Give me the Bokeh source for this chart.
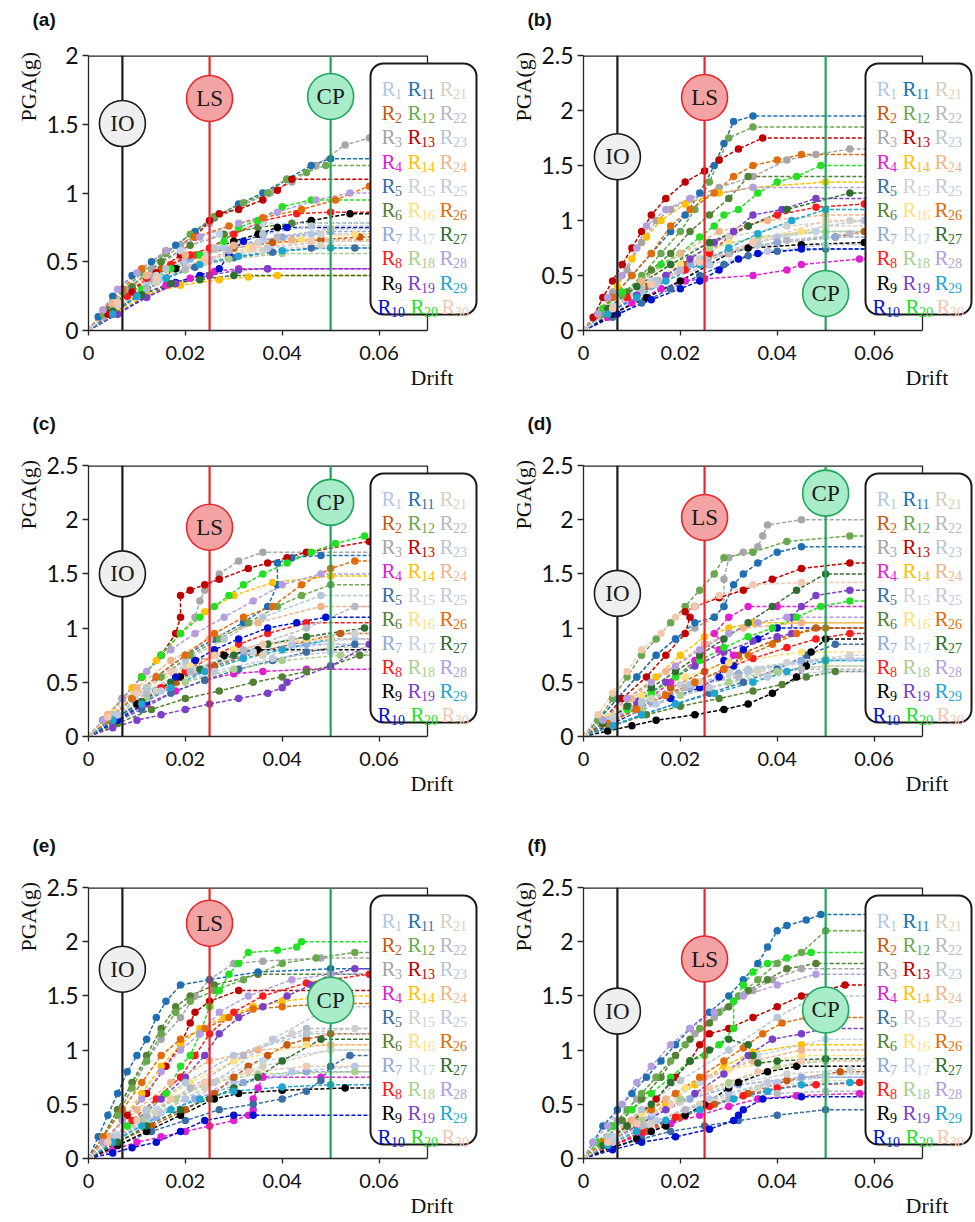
import math
from bokeh.plotting import figure
from bokeh.layouts import column, row
from bokeh.models import FixedTicker, BoxAnnotation, Title
from bokeh.core.properties import value
from bokeh.embed import file_html
from bokeh.resources import INLINE

# ---------------------------------------------------------------- data
RECORD_NAMES = [str(i) for i in range(1, 31)]
RECORD_COLORS = [
    "#b4c6e7", "#c55a11", "#a6a6a6", "#e020d0", "#3a6ea5",
    "#548235", "#8faadc", "#ff1a1a", "#000000", "#0010d0",
    "#1f6fb2", "#6aa84f", "#c00000", "#ffc000", "#d0d0d0",
    "#ffe080", "#c5d3e8", "#a9d08e", "#7b3fc8", "#22e022",
    "#d4d2bc", "#b8b8c4", "#b4c8d4", "#f0b48a", "#c0c8dc",
    "#e36c0a", "#2e6e30", "#b49ee0", "#1ea5d0", "#f4c8b0",
]

LIMIT_NAMES = ["IO", "LS", "CP"]
LIMIT_DRIFT = [0.007, 0.025, 0.05]
LIMIT_LINE = ["#1a1a1a", "#e8262b", "#1fa55a"]
LIMIT_FILL = ["#efefef", "#f3a3a3", "#a9ecc9"]

X_TICKS = [0, 0.02, 0.04, 0.06]
X_LABELS = ["0", "0.02", "0.04", "0.06"]

# IDA curves (drift, PGA in g), records R1..R30, per building model
IDA_A = [
    [(0.006,0.2),(0.012,0.35),(0.02,0.5),(0.028,0.6),(0.036,0.66),(0.046,0.7)],
    [(0.004,0.15),(0.009,0.3),(0.015,0.45),(0.022,0.55),(0.03,0.6),(0.038,0.64),(0.048,0.66),(0.056,0.68)],
    [(0.003,0.1),(0.008,0.3),(0.013,0.45),(0.019,0.62),(0.025,0.78),(0.031,0.9),(0.0375,1.0),(0.042,1.08),(0.047,1.2),(0.053,1.35),(0.058,1.4)],
    [(0.005,0.12),(0.01,0.25),(0.016,0.33),(0.021,0.38),(0.026,0.43),(0.031,0.45),(0.037,0.45)],
    [(0.005,0.12),(0.01,0.25),(0.016,0.38),(0.022,0.46),(0.03,0.53),(0.038,0.57),(0.046,0.6),(0.055,0.6)],
    [(0.004,0.15),(0.009,0.32),(0.015,0.5),(0.021,0.62),(0.028,0.7),(0.035,0.75),(0.042,0.78)],
    [(0.006,0.2),(0.013,0.38),(0.021,0.52),(0.03,0.62),(0.04,0.68),(0.05,0.72)],
    [(0.004,0.12),(0.008,0.25),(0.012,0.38),(0.017,0.48),(0.021,0.55),(0.025,0.6),(0.03,0.7),(0.036,0.8),(0.043,0.85),(0.05,0.86)],
    [(0.006,0.15),(0.012,0.3),(0.018,0.45),(0.023,0.55),(0.03,0.65),(0.035,0.7),(0.039,0.75),(0.046,0.8),(0.054,0.85)],
    [(0.006,0.12),(0.012,0.25),(0.018,0.35),(0.023,0.4),(0.027,0.45),(0.029,0.55),(0.032,0.65),(0.036,0.7),(0.041,0.75)],
    [(0.002,0.1),(0.005,0.25),(0.009,0.4),(0.013,0.5),(0.018,0.62),(0.022,0.72),(0.026,0.82),(0.031,0.92),(0.036,1.0),(0.041,1.1),(0.046,1.2),(0.05,1.25)],
    [(0.003,0.12),(0.007,0.28),(0.011,0.42),(0.016,0.56),(0.021,0.7),(0.026,0.83),(0.032,0.93),(0.037,1.0),(0.041,1.1),(0.045,1.15),(0.049,1.2)],
    [(0.004,0.12),(0.009,0.28),(0.014,0.42),(0.019,0.55),(0.022,0.68),(0.025,0.8),(0.027,0.85),(0.031,0.88),(0.036,0.95),(0.039,1.02),(0.042,1.1)],
    [(0.006,0.14),(0.012,0.26),(0.019,0.33),(0.027,0.37),(0.033,0.39),(0.039,0.4)],
    [(0.006,0.2),(0.014,0.4),(0.024,0.55),(0.035,0.64),(0.048,0.7)],
    [(0.006,0.18),(0.014,0.36),(0.023,0.5),(0.033,0.6),(0.044,0.66),(0.055,0.7)],
    [(0.005,0.2),(0.012,0.4),(0.019,0.58),(0.027,0.7),(0.036,0.78)],
    [(0.005,0.15),(0.012,0.3),(0.02,0.44),(0.029,0.52),(0.04,0.56)],
    [(0.006,0.12),(0.012,0.24),(0.018,0.34),(0.025,0.4),(0.031,0.44),(0.037,0.45)],
    [(0.005,0.15),(0.011,0.3),(0.017,0.45),(0.023,0.55),(0.028,0.65),(0.031,0.75),(0.035,0.8),(0.04,0.9),(0.046,0.95)],
    [(0.006,0.18),(0.014,0.35),(0.024,0.5),(0.036,0.58),(0.048,0.62)],
    [(0.005,0.15),(0.012,0.3),(0.02,0.45),(0.029,0.58),(0.039,0.68),(0.05,0.74)],
    [(0.006,0.2),(0.016,0.45),(0.026,0.6),(0.036,0.7),(0.046,0.76)],
    [(0.005,0.2),(0.012,0.4),(0.02,0.55),(0.03,0.62),(0.042,0.66)],
    [(0.006,0.2),(0.015,0.38),(0.025,0.52),(0.037,0.6),(0.05,0.65)],
    [(0.003,0.15),(0.007,0.3),(0.011,0.45),(0.016,0.58),(0.022,0.68),(0.029,0.76),(0.036,0.82),(0.044,0.88),(0.051,0.95),(0.058,1.05)],
    [(0.005,0.14),(0.011,0.26),(0.017,0.34),(0.023,0.37),(0.03,0.4)],
    [(0.003,0.15),(0.006,0.3),(0.01,0.42),(0.016,0.58),(0.023,0.68),(0.031,0.78),(0.039,0.86),(0.047,0.95),(0.054,1.0)],
    [(0.005,0.12),(0.01,0.25),(0.016,0.38),(0.023,0.48),(0.031,0.54),(0.04,0.58),(0.05,0.6)],
    [(0.006,0.2),(0.014,0.38),(0.024,0.52),(0.034,0.6),(0.046,0.65)],
]

IDA_B = [
    [(0.005,0.15),(0.012,0.35),(0.02,0.55),(0.03,0.72),(0.04,0.85),(0.05,0.95),(0.058,1.0)],
    [(0.006,0.2),(0.013,0.4),(0.021,0.6),(0.03,0.72),(0.04,0.8),(0.052,0.85),(0.058,0.9)],
    [(0.003,0.15),(0.006,0.35),(0.009,0.55),(0.012,0.8),(0.015,1.0),(0.018,1.1),(0.022,1.2),(0.028,1.3),(0.035,1.4),(0.042,1.55),(0.048,1.6),(0.055,1.65)],
    [(0.005,0.12),(0.01,0.25),(0.016,0.38),(0.021,0.45),(0.025,0.47),(0.035,0.5),(0.042,0.55),(0.045,0.6),(0.057,0.65)],
    [(0.006,0.12),(0.012,0.25),(0.018,0.38),(0.024,0.5),(0.029,0.6),(0.034,0.68),(0.04,0.72),(0.05,0.74)],
    [(0.004,0.15),(0.009,0.35),(0.014,0.55),(0.018,0.7),(0.022,0.9),(0.026,1.05),(0.03,1.2),(0.034,1.4)],
    [(0.006,0.2),(0.014,0.4),(0.022,0.6),(0.03,0.72),(0.04,0.8),(0.052,0.85)],
    [(0.004,0.15),(0.009,0.3),(0.015,0.45),(0.021,0.55),(0.026,0.7),(0.03,0.85),(0.034,0.95),(0.04,1.05),(0.048,1.12),(0.058,1.15)],
    [(0.006,0.15),(0.013,0.3),(0.02,0.45),(0.026,0.6),(0.03,0.7),(0.034,0.75),(0.045,0.78),(0.058,0.8)],
    [(0.007,0.15),(0.014,0.28),(0.02,0.38),(0.024,0.45),(0.028,0.55),(0.032,0.65),(0.036,0.7),(0.045,0.74)],
    [(0.003,0.15),(0.006,0.3),(0.01,0.5),(0.014,0.7),(0.018,0.9),(0.021,1.05),(0.024,1.25),(0.027,1.5),(0.029,1.7),(0.031,1.9),(0.035,1.95)],
    [(0.004,0.15),(0.008,0.32),(0.012,0.5),(0.016,0.7),(0.02,0.9),(0.023,1.1),(0.026,1.35),(0.028,1.55),(0.03,1.75),(0.035,1.85)],
    [(0.002,0.12),(0.004,0.3),(0.006,0.45),(0.008,0.6),(0.01,0.75),(0.012,0.9),(0.014,1.05),(0.017,1.2),(0.021,1.35),(0.025,1.45),(0.028,1.55),(0.032,1.65),(0.037,1.75)],
    [(0.004,0.2),(0.007,0.4),(0.01,0.65),(0.013,0.85),(0.016,1.0),(0.021,1.15),(0.028,1.25),(0.035,1.3),(0.05,1.35)],
    [(0.005,0.2),(0.012,0.45),(0.02,0.7),(0.03,0.85),(0.042,0.95),(0.055,1.0)],
    [(0.005,0.2),(0.012,0.4),(0.02,0.6),(0.03,0.8),(0.045,0.9)],
    [(0.006,0.22),(0.014,0.45),(0.024,0.65),(0.035,0.8),(0.048,0.9)],
    [(0.005,0.2),(0.011,0.4),(0.018,0.6),(0.026,0.75),(0.036,0.85),(0.05,0.9)],
    [(0.005,0.15),(0.011,0.32),(0.017,0.5),(0.022,0.65),(0.027,0.8),(0.031,0.9),(0.035,1.05),(0.041,1.1),(0.048,1.2)],
    [(0.004,0.2),(0.008,0.35),(0.012,0.45),(0.016,0.6),(0.02,0.7),(0.024,0.85),(0.027,0.95),(0.029,1.05),(0.032,1.1),(0.036,1.25),(0.04,1.35),(0.044,1.4),(0.049,1.5)],
    [(0.006,0.2),(0.014,0.42),(0.024,0.62),(0.036,0.8),(0.05,0.95)],
    [(0.005,0.18),(0.012,0.38),(0.02,0.55),(0.03,0.7),(0.042,0.82),(0.055,0.88)],
    [(0.006,0.2),(0.015,0.45),(0.025,0.65),(0.036,0.78),(0.05,0.85)],
    [(0.005,0.2),(0.012,0.45),(0.02,0.7),(0.028,0.9),(0.038,1.0),(0.05,1.05)],
    [(0.006,0.2),(0.015,0.42),(0.026,0.6),(0.038,0.72),(0.05,0.78)],
    [(0.003,0.15),(0.006,0.3),(0.01,0.5),(0.014,0.7),(0.018,0.95),(0.022,1.1),(0.027,1.25),(0.031,1.4),(0.035,1.5),(0.04,1.55),(0.045,1.6)],
    [(0.005,0.2),(0.011,0.4),(0.018,0.6),(0.026,0.8),(0.034,0.95),(0.042,1.1),(0.055,1.25)],
    [(0.003,0.15),(0.005,0.3),(0.008,0.5),(0.011,0.75),(0.013,0.95),(0.017,1.1),(0.022,1.2),(0.035,1.3)],
    [(0.005,0.15),(0.011,0.3),(0.017,0.45),(0.024,0.6),(0.03,0.75),(0.036,0.88),(0.043,1.0),(0.05,1.1)],
    [(0.006,0.2),(0.014,0.42),(0.024,0.62),(0.035,0.8),(0.05,1.0)],
]

IDA_C = [
    [(0.005,0.2),(0.012,0.42),(0.02,0.6),(0.03,0.75),(0.042,0.85),(0.055,0.9)],
    [(0.005,0.15),(0.011,0.32),(0.018,0.5),(0.026,0.65),(0.035,0.78),(0.045,0.88),(0.052,0.95)],
    [(0.003,0.15),(0.007,0.35),(0.011,0.55),(0.015,0.75),(0.019,0.95),(0.022,1.1),(0.023,1.25),(0.024,1.35),(0.027,1.5),(0.031,1.62),(0.036,1.7)],
    [(0.006,0.15),(0.012,0.3),(0.018,0.42),(0.024,0.52),(0.03,0.58),(0.036,0.6),(0.045,0.62)],
    [(0.005,0.12),(0.011,0.25),(0.017,0.4),(0.024,0.52),(0.031,0.62),(0.038,0.7),(0.045,0.78),(0.055,0.85)],
    [(0.006,0.12),(0.013,0.25),(0.02,0.35),(0.027,0.42),(0.034,0.5),(0.04,0.55),(0.045,0.6),(0.05,0.65),(0.056,0.75)],
    [(0.006,0.2),(0.014,0.42),(0.022,0.6),(0.032,0.75),(0.045,0.85)],
    [(0.005,0.15),(0.01,0.3),(0.015,0.45),(0.02,0.6),(0.026,0.75),(0.031,0.85),(0.037,0.95),(0.045,1.05)],
    [(0.005,0.15),(0.01,0.3),(0.014,0.42),(0.019,0.55),(0.022,0.7),(0.028,0.75),(0.035,0.8)],
    [(0.006,0.15),(0.012,0.32),(0.018,0.55),(0.022,0.7),(0.026,0.8),(0.031,0.9),(0.037,1.0),(0.043,1.05),(0.049,1.1)],
    [(0.004,0.15),(0.009,0.35),(0.014,0.55),(0.02,0.75),(0.026,0.9),(0.032,1.05),(0.037,1.2),(0.039,1.4),(0.039,1.6),(0.042,1.65),(0.048,1.67)],
    [(0.004,0.15),(0.009,0.35),(0.015,0.55),(0.021,0.75),(0.027,0.9),(0.033,1.05),(0.039,1.2),(0.044,1.3),(0.05,1.4)],
    [(0.003,0.15),(0.007,0.35),(0.011,0.55),(0.015,0.75),(0.018,0.95),(0.019,1.1),(0.019,1.3),(0.021,1.35),(0.024,1.4),(0.027,1.45),(0.033,1.55),(0.037,1.6),(0.041,1.65),(0.045,1.7),(0.058,1.8)],
    [(0.004,0.2),(0.009,0.45),(0.014,0.7),(0.019,0.95),(0.024,1.15),(0.03,1.3),(0.038,1.42),(0.05,1.48)],
    [(0.005,0.2),(0.012,0.45),(0.02,0.65),(0.03,0.8),(0.042,0.9),(0.055,0.95)],
    [(0.005,0.22),(0.012,0.45),(0.021,0.65),(0.03,0.8),(0.045,0.9)],
    [(0.005,0.2),(0.012,0.42),(0.022,0.62),(0.034,0.78),(0.05,0.85)],
    [(0.005,0.15),(0.012,0.35),(0.02,0.5),(0.03,0.62),(0.04,0.7),(0.052,0.75)],
    [(0.005,0.08),(0.01,0.15),(0.015,0.2),(0.02,0.25),(0.025,0.3),(0.031,0.35),(0.037,0.4),(0.04,0.45),(0.041,0.5),(0.05,0.65),(0.058,0.85)],
    [(0.003,0.15),(0.007,0.35),(0.011,0.55),(0.015,0.75),(0.019,0.95),(0.023,1.1),(0.026,1.2),(0.029,1.3),(0.032,1.4),(0.036,1.5),(0.041,1.6),(0.046,1.7),(0.051,1.78),(0.057,1.85)],
    [(0.006,0.2),(0.014,0.42),(0.024,0.62),(0.036,0.75),(0.05,0.82)],
    [(0.005,0.18),(0.012,0.4),(0.021,0.6),(0.032,0.8),(0.045,1.0),(0.055,1.2)],
    [(0.005,0.2),(0.012,0.45),(0.02,0.7),(0.028,0.9),(0.036,1.1),(0.048,1.3)],
    [(0.004,0.2),(0.01,0.45),(0.017,0.7),(0.025,0.9),(0.035,1.05),(0.048,1.2)],
    [(0.006,0.2),(0.015,0.42),(0.026,0.6),(0.038,0.72),(0.05,0.78)],
    [(0.004,0.15),(0.009,0.35),(0.014,0.55),(0.02,0.75),(0.026,0.95),(0.032,1.1),(0.038,1.2),(0.044,1.4),(0.05,1.55),(0.055,1.62)],
    [(0.005,0.15),(0.011,0.32),(0.017,0.5),(0.023,0.62),(0.03,0.75),(0.037,0.85),(0.045,0.92),(0.057,1.0)],
    [(0.003,0.15),(0.007,0.35),(0.012,0.6),(0.017,0.8),(0.022,0.95),(0.028,1.1),(0.034,1.25),(0.04,1.4),(0.048,1.5)],
    [(0.005,0.15),(0.011,0.3),(0.017,0.45),(0.024,0.6),(0.032,0.72),(0.04,0.8),(0.05,0.9)],
    [(0.004,0.18),(0.01,0.4),(0.017,0.6),(0.026,0.75),(0.036,0.85),(0.05,0.9)],
]

IDA_D = [
    [(0.006,0.15),(0.014,0.32),(0.024,0.48),(0.034,0.6),(0.045,0.68),(0.055,0.72)],
    [(0.005,0.12),(0.011,0.28),(0.018,0.45),(0.025,0.6),(0.032,0.75),(0.04,0.9),(0.048,1.0)],
    [(0.003,0.15),(0.007,0.35),(0.011,0.55),(0.015,0.75),(0.019,0.9),(0.023,1.0),(0.027,1.1),(0.029,1.2),(0.029,1.45),(0.03,1.65),(0.033,1.7),(0.036,1.75),(0.037,1.85),(0.038,1.95),(0.045,2.0)],
    [(0.006,0.15),(0.012,0.3),(0.018,0.5),(0.023,0.7),(0.025,0.85),(0.028,0.8),(0.03,0.65),(0.031,0.75),(0.027,0.95),(0.03,1.1),(0.034,1.2),(0.04,1.2)],
    [(0.006,0.1),(0.012,0.2),(0.019,0.3),(0.026,0.4),(0.033,0.5),(0.04,0.62),(0.046,0.75),(0.052,0.85)],
    [(0.006,0.1),(0.013,0.2),(0.02,0.28),(0.028,0.35),(0.035,0.42),(0.041,0.48),(0.046,0.55),(0.052,0.6)],
    [(0.006,0.15),(0.014,0.32),(0.022,0.45),(0.032,0.58),(0.045,0.7)],
    [(0.005,0.12),(0.011,0.25),(0.017,0.38),(0.023,0.5),(0.029,0.62),(0.035,0.72),(0.042,0.82),(0.048,0.9),(0.055,0.95)],
    [(0.005,0.05),(0.01,0.1),(0.015,0.15),(0.023,0.2),(0.029,0.25),(0.034,0.3),(0.039,0.4),(0.044,0.55),(0.046,0.65),(0.047,0.78),(0.05,0.9)],
    [(0.006,0.12),(0.012,0.25),(0.018,0.35),(0.024,0.45),(0.028,0.55),(0.029,0.7),(0.031,0.65),(0.033,0.8),(0.036,0.9),(0.04,1.0)],
    [(0.003,0.15),(0.007,0.35),(0.011,0.55),(0.015,0.75),(0.019,0.9),(0.023,1.05),(0.027,1.1),(0.029,1.2),(0.031,1.4),(0.033,1.5),(0.036,1.6),(0.04,1.7),(0.045,1.75)],
    [(0.003,0.15),(0.006,0.35),(0.009,0.55),(0.012,0.75),(0.015,0.9),(0.018,1.05),(0.021,1.2),(0.024,1.35),(0.027,1.5),(0.029,1.65),(0.035,1.7),(0.042,1.8),(0.055,1.85)],
    [(0.004,0.15),(0.008,0.35),(0.013,0.55),(0.017,0.75),(0.021,0.95),(0.022,1.1),(0.021,1.15),(0.023,1.2),(0.028,1.28),(0.033,1.35),(0.039,1.45),(0.045,1.55),(0.055,1.6)],
    [(0.004,0.15),(0.009,0.35),(0.015,0.55),(0.02,0.75),(0.025,0.92),(0.03,1.0),(0.035,1.05)],
    [(0.005,0.15),(0.012,0.32),(0.02,0.48),(0.03,0.6),(0.042,0.68),(0.055,0.75)],
    [(0.005,0.18),(0.012,0.38),(0.021,0.55),(0.03,0.68),(0.045,0.78)],
    [(0.006,0.18),(0.014,0.35),(0.024,0.5),(0.036,0.62),(0.05,0.7)],
    [(0.005,0.12),(0.012,0.25),(0.02,0.38),(0.03,0.5),(0.04,0.6),(0.05,0.65)],
    [(0.005,0.15),(0.011,0.32),(0.017,0.5),(0.023,0.65),(0.029,0.78),(0.035,0.88),(0.04,0.92),(0.043,0.95),(0.043,1.1),(0.045,1.2),(0.048,1.3),(0.055,1.35)],
    [(0.004,0.12),(0.009,0.25),(0.014,0.4),(0.019,0.55),(0.024,0.7),(0.029,0.82),(0.034,0.92),(0.039,1.0),(0.044,1.1),(0.049,1.2),(0.055,1.25)],
    [(0.006,0.18),(0.014,0.35),(0.024,0.5),(0.036,0.6),(0.05,0.65)],
    [(0.005,0.15),(0.012,0.3),(0.021,0.45),(0.032,0.55),(0.045,0.62)],
    [(0.005,0.15),(0.012,0.32),(0.022,0.48),(0.034,0.62),(0.05,0.72)],
    [(0.004,0.15),(0.01,0.35),(0.017,0.6),(0.025,0.85),(0.033,1.0),(0.045,1.05)],
    [(0.006,0.15),(0.015,0.3),(0.026,0.45),(0.038,0.55),(0.05,0.6)],
    [(0.005,0.12),(0.011,0.25),(0.017,0.38),(0.023,0.5),(0.029,0.62),(0.034,0.75),(0.039,0.85),(0.044,0.95),(0.05,1.0)],
    [(0.004,0.12),(0.009,0.28),(0.014,0.45),(0.019,0.6),(0.024,0.75),(0.029,0.9),(0.034,1.05),(0.039,1.2),(0.044,1.35),(0.05,1.5)],
    [(0.004,0.15),(0.009,0.35),(0.014,0.5),(0.019,0.65),(0.024,0.8),(0.03,0.95),(0.036,1.05),(0.042,1.1)],
    [(0.006,0.1),(0.012,0.2),(0.019,0.3),(0.027,0.4),(0.035,0.5),(0.042,0.6),(0.05,0.7)],
    [(0.003,0.2),(0.006,0.4),(0.009,0.6),(0.012,0.8),(0.016,0.95),(0.019,1.1),(0.023,1.2),(0.028,1.3),(0.035,1.4),(0.045,1.42)],
]

IDA_E = [
    [(0.005,0.15),(0.012,0.35),(0.02,0.55),(0.03,0.7),(0.042,0.8),(0.055,0.85)],
    [(0.006,0.15),(0.013,0.3),(0.02,0.45),(0.026,0.6),(0.03,0.75),(0.033,0.85),(0.037,0.95),(0.041,1.05),(0.045,1.1),(0.05,1.15)],
    [(0.003,0.2),(0.006,0.45),(0.009,0.7),(0.012,0.9),(0.015,1.1),(0.019,1.3),(0.022,1.5),(0.025,1.65),(0.03,1.8),(0.036,1.82),(0.048,1.85)],
    [(0.005,0.08),(0.01,0.15),(0.015,0.2),(0.02,0.25),(0.025,0.3),(0.03,0.35),(0.033,0.4),(0.034,0.45),(0.034,0.55),(0.035,0.65),(0.036,0.75),(0.048,0.75)],
    [(0.006,0.12),(0.013,0.25),(0.02,0.35),(0.027,0.45),(0.034,0.5),(0.04,0.55),(0.045,0.62),(0.048,0.72),(0.05,0.85),(0.054,0.95)],
    [(0.003,0.2),(0.006,0.45),(0.009,0.7),(0.012,0.95),(0.015,1.2),(0.018,1.4),(0.021,1.5),(0.026,1.6),(0.035,1.7)],
    [(0.006,0.18),(0.014,0.38),(0.022,0.55),(0.032,0.7),(0.045,0.8)],
    [(0.004,0.15),(0.009,0.35),(0.014,0.55),(0.019,0.75),(0.022,0.95),(0.025,1.15),(0.03,1.35),(0.036,1.5),(0.045,1.62),(0.058,1.7)],
    [(0.006,0.12),(0.012,0.25),(0.019,0.4),(0.026,0.55),(0.031,0.6),(0.04,0.63),(0.053,0.65)],
    [(0.005,0.05),(0.009,0.1),(0.014,0.15),(0.019,0.25),(0.024,0.35),(0.03,0.4),(0.034,0.4)],
    [(0.002,0.2),(0.004,0.4),(0.006,0.6),(0.008,0.8),(0.01,0.95),(0.012,1.1),(0.014,1.3),(0.016,1.45),(0.019,1.6),(0.025,1.65),(0.035,1.72),(0.05,1.75)],
    [(0.003,0.2),(0.006,0.4),(0.009,0.65),(0.012,0.9),(0.015,1.15),(0.018,1.35),(0.021,1.45),(0.026,1.55),(0.032,1.65),(0.04,1.8),(0.047,1.85),(0.055,1.9)],
    [(0.004,0.2),(0.008,0.4),(0.012,0.6),(0.016,0.85),(0.019,1.05),(0.021,1.25),(0.022,1.35),(0.025,1.45),(0.031,1.55)],
    [(0.003,0.15),(0.007,0.35),(0.011,0.6),(0.015,0.85),(0.019,1.05),(0.023,1.2),(0.028,1.3),(0.034,1.4),(0.04,1.45),(0.05,1.5)],
    [(0.005,0.2),(0.012,0.45),(0.02,0.7),(0.03,0.95),(0.042,1.15),(0.055,1.2)],
    [(0.005,0.2),(0.012,0.45),(0.021,0.7),(0.03,0.9),(0.045,1.05)],
    [(0.006,0.22),(0.014,0.45),(0.024,0.7),(0.036,0.9),(0.05,1.0)],
    [(0.005,0.15),(0.011,0.35),(0.018,0.55),(0.025,0.7),(0.035,0.78),(0.055,0.8)],
    [(0.005,0.15),(0.01,0.35),(0.015,0.55),(0.02,0.75),(0.024,0.95),(0.027,1.15),(0.031,1.3),(0.036,1.4),(0.041,1.5),(0.046,1.6),(0.05,1.7),(0.055,1.75)],
    [(0.004,0.15),(0.008,0.3),(0.012,0.45),(0.016,0.6),(0.019,0.85),(0.021,0.95),(0.023,1.15),(0.025,1.4),(0.027,1.55),(0.029,1.7),(0.031,1.8),(0.033,1.9),(0.039,1.92),(0.043,1.95),(0.044,2.0)],
    [(0.006,0.2),(0.014,0.42),(0.024,0.65),(0.036,0.85),(0.05,1.0)],
    [(0.005,0.18),(0.012,0.4),(0.021,0.65),(0.032,0.95),(0.045,1.2)],
    [(0.005,0.2),(0.012,0.45),(0.02,0.7),(0.03,0.95),(0.045,1.15)],
    [(0.004,0.2),(0.01,0.45),(0.017,0.7),(0.025,0.9),(0.035,1.0),(0.05,1.05)],
    [(0.006,0.2),(0.015,0.42),(0.026,0.7),(0.038,1.1),(0.05,1.4)],
    [(0.003,0.2),(0.007,0.45),(0.011,0.7),(0.015,0.95),(0.019,1.1),(0.024,1.2),(0.029,1.3),(0.034,1.38),(0.04,1.4),(0.05,1.43)],
    [(0.006,0.15),(0.012,0.3),(0.019,0.45),(0.025,0.55),(0.03,0.65),(0.035,0.75),(0.04,0.9),(0.048,1.1)],
    [(0.003,0.15),(0.007,0.35),(0.011,0.55),(0.015,0.8),(0.019,1.0),(0.023,1.15),(0.027,1.35),(0.033,1.5),(0.042,1.65),(0.05,1.7)],
    [(0.005,0.15),(0.011,0.3),(0.017,0.45),(0.023,0.55),(0.03,0.62),(0.04,0.66),(0.05,0.68)],
    [(0.004,0.15),(0.01,0.35),(0.017,0.55),(0.024,0.7),(0.033,0.8),(0.045,0.85)],
]

IDA_F = [
    [(0.006,0.15),(0.013,0.3),(0.021,0.45),(0.03,0.6),(0.04,0.7),(0.05,0.75)],
    [(0.006,0.12),(0.013,0.25),(0.02,0.38),(0.027,0.5),(0.034,0.6),(0.042,0.72),(0.053,0.8)],
    [(0.003,0.15),(0.007,0.35),(0.011,0.55),(0.015,0.75),(0.019,0.95),(0.023,1.15),(0.027,1.3),(0.031,1.45),(0.035,1.55),(0.039,1.65),(0.045,1.75)],
    [(0.006,0.12),(0.012,0.22),(0.018,0.32),(0.024,0.4),(0.03,0.48),(0.036,0.55),(0.044,0.58),(0.057,0.6)],
    [(0.006,0.1),(0.012,0.18),(0.018,0.25),(0.025,0.3),(0.032,0.35),(0.04,0.4),(0.05,0.45)],
    [(0.004,0.15),(0.008,0.35),(0.012,0.55),(0.016,0.75),(0.019,0.95),(0.022,1.1),(0.026,1.25),(0.03,1.4),(0.034,1.55),(0.038,1.65),(0.042,1.75),(0.048,1.8)],
    [(0.006,0.18),(0.014,0.38),(0.022,0.55),(0.032,0.68),(0.045,0.75)],
    [(0.006,0.12),(0.012,0.25),(0.019,0.38),(0.026,0.48),(0.033,0.58),(0.04,0.65),(0.048,0.68),(0.057,0.7)],
    [(0.006,0.1),(0.011,0.18),(0.014,0.25),(0.017,0.3),(0.021,0.4),(0.025,0.5),(0.03,0.65),(0.032,0.7),(0.038,0.8),(0.044,0.85)],
    [(0.006,0.08),(0.012,0.15),(0.019,0.2),(0.026,0.27),(0.031,0.35),(0.032,0.4),(0.033,0.45),(0.037,0.55),(0.045,0.57)],
    [(0.002,0.15),(0.004,0.3),(0.007,0.45),(0.01,0.6),(0.013,0.75),(0.016,0.9),(0.019,1.05),(0.022,1.2),(0.026,1.35),(0.03,1.5),(0.033,1.65),(0.036,1.8),(0.038,1.95),(0.04,2.1),(0.042,2.15),(0.046,2.2),(0.049,2.25)],
    [(0.003,0.15),(0.006,0.3),(0.009,0.45),(0.012,0.6),(0.015,0.75),(0.018,0.9),(0.021,1.05),(0.024,1.2),(0.028,1.35),(0.032,1.5),(0.036,1.65),(0.04,1.8),(0.045,1.9),(0.05,2.1)],
    [(0.005,0.15),(0.01,0.35),(0.015,0.55),(0.019,0.75),(0.022,0.9),(0.024,1.05),(0.026,1.15),(0.03,1.2),(0.035,1.3),(0.04,1.4),(0.045,1.5),(0.054,1.6)],
    [(0.005,0.15),(0.011,0.32),(0.017,0.5),(0.023,0.68),(0.029,0.85),(0.035,0.98),(0.045,1.05)],
    [(0.005,0.15),(0.012,0.35),(0.02,0.52),(0.03,0.68),(0.042,0.78),(0.055,0.82)],
    [(0.005,0.2),(0.012,0.42),(0.021,0.65),(0.03,0.82),(0.045,0.95)],
    [(0.006,0.2),(0.014,0.42),(0.024,0.7),(0.036,0.95),(0.05,1.1)],
    [(0.005,0.15),(0.012,0.35),(0.02,0.55),(0.03,0.7),(0.04,0.85),(0.05,0.9)],
    [(0.005,0.15),(0.011,0.3),(0.017,0.45),(0.023,0.6),(0.029,0.78),(0.034,0.95),(0.039,1.1),(0.045,1.15),(0.05,1.2)],
    [(0.003,0.15),(0.006,0.3),(0.01,0.45),(0.014,0.6),(0.018,0.75),(0.022,0.9),(0.025,0.95),(0.028,1.05),(0.031,1.2),(0.031,1.45),(0.033,1.6),(0.035,1.72),(0.038,1.8),(0.042,1.85),(0.047,1.9)],
    [(0.006,0.15),(0.014,0.32),(0.024,0.5),(0.036,0.65),(0.05,0.72)],
    [(0.005,0.15),(0.012,0.3),(0.021,0.45),(0.03,0.55),(0.04,0.6),(0.05,0.62)],
    [(0.005,0.2),(0.012,0.45),(0.02,0.72),(0.03,1.0),(0.04,1.3),(0.048,1.5)],
    [(0.004,0.15),(0.01,0.35),(0.017,0.55),(0.025,0.75),(0.035,0.9),(0.045,1.0)],
    [(0.006,0.15),(0.015,0.35),(0.026,0.55),(0.038,0.7),(0.05,0.78)],
    [(0.004,0.15),(0.009,0.3),(0.014,0.45),(0.019,0.6),(0.024,0.75),(0.029,0.9),(0.033,1.02),(0.037,1.15),(0.041,1.25),(0.046,1.3)],
    [(0.004,0.12),(0.009,0.3),(0.014,0.5),(0.018,0.7),(0.022,0.9),(0.026,1.0),(0.03,1.1),(0.034,1.05),(0.035,0.95),(0.036,0.88),(0.04,0.9),(0.05,0.92)],
    [(0.002,0.15),(0.005,0.3),(0.008,0.5),(0.011,0.7),(0.014,0.85),(0.018,1.05),(0.022,1.2),(0.027,1.35),(0.033,1.5),(0.04,1.6),(0.048,1.7)],
    [(0.005,0.12),(0.011,0.25),(0.017,0.35),(0.024,0.45),(0.031,0.55),(0.038,0.62),(0.045,0.68),(0.055,0.7)],
    [(0.005,0.15),(0.011,0.32),(0.018,0.5),(0.026,0.65),(0.036,0.8),(0.045,0.9)],
]

PANEL_LETTERS = ["(a)", "(b)", "(c)", "(d)", "(e)", "(f)"]
PANEL_CURVES = [IDA_A, IDA_B, IDA_C, IDA_D, IDA_E, IDA_F]
PANEL_YMAX = [2.0, 2.5, 2.5, 2.5, 2.5, 2.5]
Y_TICKS_2 = [0, 0.5, 1, 1.5, 2]
Y_TICKS_25 = [0, 0.5, 1, 1.5, 2, 2.5]
# vertical position (g) of the IO / LS / CP badges in each panel
BADGE_Y = [
    [1.505, 1.687, 1.702],
    [1.58, 2.118, 0.336],
    [1.50, 1.93, 2.16],
    [1.32, 2.02, 2.245],
    [1.746, 2.17, 1.46],
    [1.36, 1.84, 1.37],
]

# ---------------------------------------------------------------- layout
FRAME_DRIFT = 0.07          # right edge of the drawn axes box
PX = FRAME_DRIFT / 339.0    # drift units per screen pixel
TAIL_DRIFT = 0.066          # flat-line extension after the last analysis
COL_W = [490, 485]
COL_L = [88, 93]
COL_R = [5, 1]
ROW_H = [405, 422, 395]
ROW_T = [55, 58, 58]
ROW_B = [75, 91, 64]
TITLE_STANDOFF = [0, 12, 12]
SERIF = "Liberation Serif"
SANS = "Lato"
INK = "#111111"
FRAME_INK = "#262626"


def fmt(v):
    return "%g" % v


def style_axis(a, font_px, tick_out, standoff):
    a.minor_tick_line_color = None
    a.major_tick_in = 0
    a.major_tick_out = tick_out
    a.major_label_standoff = standoff
    a.major_label_text_font = SANS
    a.major_label_text_font_size = font_px
    a.major_label_text_color = INK
    a.axis_line_color = FRAME_INK
    a.axis_line_width = 1.3
    a.major_tick_line_color = FRAME_INK
    a.major_tick_line_width = 1.3


def make_panel(idx):
    col, rw = idx % 2, idx // 2
    W, H = COL_W[col], ROW_H[rw]
    L, R, T, B = COL_L[col], COL_R[col], ROW_T[rw], ROW_B[rw]
    fw, fh = W - L - R, H - T - B
    ymax = PANEL_YMAX[idx]
    py = ymax / fh  # g per pixel
    curves = PANEL_CURVES[idx]

    p = figure(width=W, height=H, x_range=(0, fw * PX), y_range=(0, ymax),
               output_backend="svg", toolbar_location=None,
               min_border_left=L, min_border_right=R,
               min_border_top=T, min_border_bottom=B,
               outline_line_color=None, background_fill_color="white",
               border_fill_color="white")
    p.grid.visible = False

    # panel letter; the blank second line lifts it clear of the axes box
    p.title.text = PANEL_LETTERS[idx] + "\n\u00a0"
    p.title.text_font = "Liberation Sans"
    p.title.text_font_style = "bold"
    p.title.text_font_size = "19px"
    p.title.text_line_height = 1.2
    p.title.text_color = INK
    p.title.align = "left"
    p.title.offset = -56
    p.title.standoff = TITLE_STANDOFF[rw]

    ax = p.xaxis[0]
    ax.ticker = FixedTicker(ticks=X_TICKS)
    ax.major_label_overrides = {t: s for t, s in zip(X_TICKS, X_LABELS)}
    ax.bounds = (0, FRAME_DRIFT)
    style_axis(ax, "20px", 5, 10)

    yt = Y_TICKS_2 if ymax == 2.0 else Y_TICKS_25
    ay = p.yaxis[0]
    ay.ticker = FixedTicker(ticks=yt)
    ay.major_label_overrides = {t: fmt(t) for t in yt}
    style_axis(ay, "23px", 6, 4)

    # axis titles
    p.add_layout(Title(text="PGA(g)", align="left", offset=fh - 66,
                       text_font=SERIF, text_font_style="normal",
                       text_font_size="22px", text_color=INK, standoff=6),
                 "left")
    p.add_layout(Title(text="Drift", align="left", offset=322,
                       text_font=SERIF, text_font_style="normal",
                       text_font_size="22px", text_color=INK, standoff=0),
                 "below")

    # IDA curves: dashed line with a dot at every analysis
    xs, ys, cs, mx, my, mc = [], [], [], [], [], []
    for k, pts in enumerate(curves):
        dx = [0.0] + [q[0] for q in pts]
        dy = [0.0] + [q[1] for q in pts]
        xs.append(dx + [TAIL_DRIFT])
        ys.append(dy + [dy[-1]])
        cs.append(RECORD_COLORS[k])
        mx += dx
        my += dy
        mc += [RECORD_COLORS[k]] * len(dx)
    p.multi_line(xs, ys, line_color=cs, line_width=1.5, line_dash="4 2")
    p.scatter(mx, my, size=7.5, color=mc, line_width=0)

    # top and right sides of the axes box (top edge sits on the frame edge)
    p.segment(x0=[0, FRAME_DRIFT], y0=[ymax, 0], x1=[FRAME_DRIFT, FRAME_DRIFT],
              y1=[ymax, ymax], line_color=FRAME_INK, line_width=[2.6, 1.3])

    # performance limits IO / LS / CP
    p.segment(x0=LIMIT_DRIFT, y0=[0] * 3, x1=LIMIT_DRIFT, y1=[ymax] * 3,
              line_color=LIMIT_LINE, line_width=2.2)
    by = BADGE_Y[idx]
    p.scatter(LIMIT_DRIFT, by, size=46, fill_color=LIMIT_FILL,
              line_color=LIMIT_LINE, line_width=1.6)
    p.text(LIMIT_DRIFT, by, text=LIMIT_NAMES, text_font=value(SERIF),
           text_font_size="23px", text_align="center",
           text_baseline="middle", text_color="#1a1a1a")

    # record legend
    bl, br, bt, bb = 282, 388, 8, 259
    box = BoxAnnotation(left=bl * PX, right=br * PX,
                        top=ymax - bt * py, bottom=ymax - bb * py,
                        fill_color="white", fill_alpha=1.0,
                        line_color="#1a1a1a", line_alpha=1.0, line_width=2,
                        border_radius=13, level="annotation")
    p.add_layout(box)
    col_off = [11, 37, 69]
    last_off = [7, 40, 71]
    rx, ry, sx, sy, tc, rs = [], [], [], [], [], []
    for k in range(30):
        c, r = k // 10, k % 10
        off = last_off[c] if r == 9 else col_off[c]
        base = bt + 18 + 24.2 * r + 7.5
        rx.append((bl + off) * PX)
        ry.append(ymax - base * py)
        sx.append((bl + off + 13.5) * PX)
        sy.append(ymax - (base + 5) * py)
        tc.append(RECORD_COLORS[k])
        rs.append(RECORD_NAMES[k])
    g1 = p.text(rx, ry, text=["R"] * 30, text_color=tc, text_font=value(SERIF),
                text_font_size="21px", text_baseline="alphabetic")
    g2 = p.text(sx, sy, text=rs, text_color=tc, text_font=value(SERIF),
                text_font_size="14px", text_baseline="alphabetic")
    g1.level = "overlay"
    g2.level = "overlay"
    return p


panels = [make_panel(i) for i in range(6)]
layout = column(row(panels[0], panels[1]), row(panels[2], panels[3]),
                row(panels[4], panels[5]))

open("out.html", "w").write(file_html(layout, INLINE, "IDA curves"))
